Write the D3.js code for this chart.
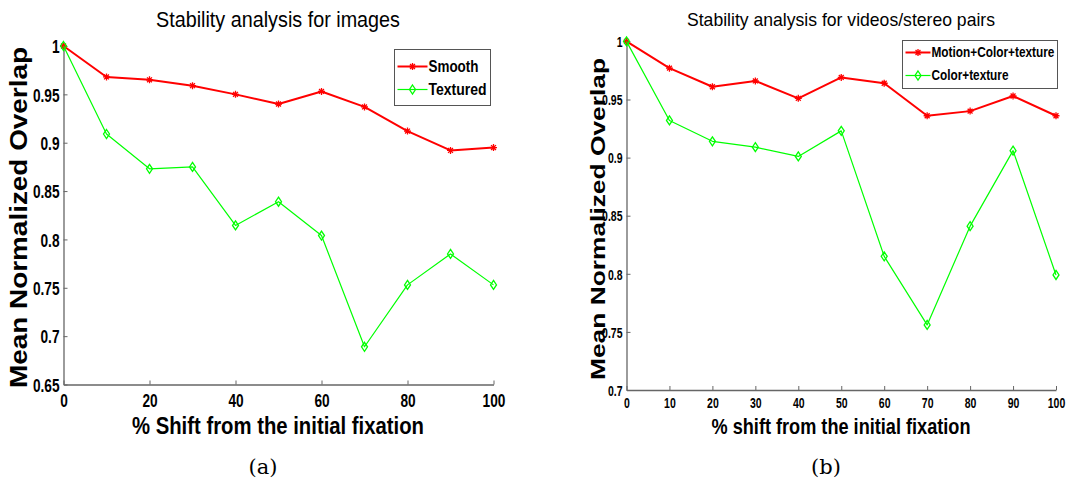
<!DOCTYPE html>
<html><head><meta charset="utf-8">
<script src="https://cdn.jsdelivr.net/npm/d3@7"></script>
<style>
body{margin:0;background:#fff;}
svg{display:block;}
text{fill:#000;}
</style></head>
<body>
<svg id="c" width="1070" height="490"></svg>
<script>
// ---- data ----
const shiftsA = [0,10,20,30,40,50,60,70,80,90,100];
const smooth   = [1.0,0.968,0.965,0.959,0.950,0.940,0.953,0.937,0.912,0.892,0.895];
const textured = [1.0,0.909,0.873,0.875,0.8145,0.839,0.804,0.689,0.753,0.785,0.753];
const shiftsB = [0,10,20,30,40,50,60,70,80,90,100];
const motionColorTexture = [1.0,0.977,0.961,0.966,0.951,0.969,0.964,0.936,0.940,0.953,0.936];
const colorTexture       = [1.0,0.932,0.914,0.909,0.901,0.923,0.815,0.756,0.841,0.906,0.799];
const yTicksA = [0.65,0.7,0.75,0.8,0.85,0.9,0.95,1];
const xTicksA = [0,20,40,60,80,100];
const yTicksB = [0.7,0.75,0.8,0.85,0.9,0.95,1];
const xTicksB = [0,10,20,30,40,50,60,70,80,90,100];

const svg = d3.select("#c");
const SANS = "'Liberation Sans',Arial,sans-serif";

// horizontally squeeze text by factor f around its own x position
function squeeze(sel, f){
  sel.each(function(){
    const t = d3.select(this);
    const x0 = +t.attr("x") || 0;
    t.attr("transform", `translate(${x0},0) scale(${f},1) translate(${-x0},0)`);
  });
}
function starPath(r){
  return `M${-r},0H${r}M0,${-r}V${r}M${-r*0.7},${-r*0.7}L${r*0.7},${r*0.7}M${-r*0.7},${r*0.7}L${r*0.7},${-r*0.7}`;
}
function diamondPath(w,h){
  return `M0,${-h}L${w},0L0,${h}L${-w},0Z`;
}

function panel(cfg){
  const g = svg.append("g");
  const x = d3.scaleLinear().domain([0,100]).range([cfg.x0,cfg.x1]);
  const y = d3.scaleLinear().domain(cfg.yDomain).range([cfg.yb,cfg.yt]);
  const fmt = d => String(+d.toFixed(2));

  const xa = g.append("g").attr("transform",`translate(0,${cfg.yb})`)
    .call(d3.axisBottom(x).tickValues(cfg.xTicks).tickSizeInner(-4).tickSizeOuter(0).tickPadding(cfg.xPad).tickFormat(d3.format("d")));
  const ya = g.append("g").attr("transform",`translate(${cfg.x0},0)`)
    .call(d3.axisLeft(y).tickValues(cfg.yTicks).tickSizeInner(-4).tickSizeOuter(0).tickPadding(4).tickFormat(fmt));
  [xa,ya].forEach(a=>{
    a.select(".domain").attr("stroke","#666").attr("stroke-width",1.3);
    a.selectAll(".tick line").attr("stroke","#666");
    a.selectAll(".tick text").attr("font-family",SANS).attr("font-weight","bold")
      .attr("font-size",cfg.tickFs).attr("fill","#000");
    squeeze(a.selectAll(".tick text"), cfg.tickF);
  });
  ya.selectAll(".tick text").attr("dy","0.35em");
  xa.selectAll(".tick text").attr("dy","0.71em");

  const line = d3.line().x(d=>x(d[0])).y(d=>y(d[1]));
  cfg.series.forEach(s=>{
    const pts = s.xs.map((v,i)=>[v,s.ys[i]]);
    g.append("path").attr("d",line(pts)).attr("fill","none")
      .attr("stroke",s.color).attr("stroke-width",s.lw).attr("stroke-linejoin","round");
    g.selectAll(null).data(pts).enter().append("path")
      .attr("transform",d=>`translate(${x(d[0])},${y(d[1])})`)
      .attr("d",s.marker==="star"?starPath(3.5):diamondPath(3,4.5))
      .attr("fill","none").attr("stroke",s.color).attr("stroke-width",1.3);
  });

  g.append("text").attr("x",cfg.titleX).attr("y",cfg.titleY).attr("text-anchor","middle")
    .attr("font-family",SANS).attr("font-size",cfg.titleFs)
    .attr("textLength",cfg.titleW).attr("lengthAdjust","spacingAndGlyphs").text(cfg.title);
  g.append("text").attr("x",cfg.xlabX).attr("y",cfg.xlabY).attr("text-anchor","middle")
    .attr("font-family",SANS).attr("font-weight","bold").attr("font-size",cfg.xlabFs)
    .attr("textLength",cfg.xlabW).attr("lengthAdjust","spacingAndGlyphs").text(cfg.xlabel);
  g.append("text").attr("transform",`translate(${cfg.ylabX},${cfg.ylabY}) rotate(-90)`)
    .attr("text-anchor","middle").attr("font-family",SANS)
    .attr("font-weight","bold").attr("font-size",cfg.ylabFs)
    .attr("textLength",cfg.ylabW).attr("lengthAdjust","spacingAndGlyphs").text("Mean Normalized Overlap");
  g.append("text").attr("x",cfg.capX).attr("y",474).attr("text-anchor","middle")
    .attr("font-family","'DejaVu Serif','Liberation Serif',serif").attr("font-size",21).text(cfg.caption);

  const L = cfg.legend;
  g.append("rect").attr("x",L.x).attr("y",L.y).attr("width",L.w).attr("height",L.h)
    .attr("fill","#fff").attr("stroke","#555").attr("stroke-width",1);
  cfg.series.forEach((s,i)=>{
    const yy = L.y + L.row0 + i*L.dy;
    g.append("line").attr("x1",L.x+L.l0).attr("x2",L.x+L.l1).attr("y1",yy).attr("y2",yy)
      .attr("stroke",s.color).attr("stroke-width",s.lw);
    g.append("path").attr("transform",`translate(${L.x+(L.l0+L.l1)/2},${yy})`)
      .attr("d",s.marker==="star"?starPath(3.5):diamondPath(3,4.5))
      .attr("fill","none").attr("stroke",s.color).attr("stroke-width",1.3);
    const t = g.append("text").attr("x",0).attr("y",0).attr("dy","0.35em")
      .attr("font-family",SANS).attr("font-weight","bold").attr("font-size",L.fs).text(s.name);
    const w = t.node().getComputedTextLength();
    t.attr("transform",`translate(${L.x+L.l1+1},${yy}) scale(${L.tw[i]/w},1)`);
  });
}

panel({
  x0:63.5, x1:493.5, yb:384.5, yt:46, yDomain:[0.65,1],
  xTicks:xTicksA, yTicks:yTicksA, tickFs:19, tickF:0.72, xPad:9,
  series:[
    {name:"Smooth", xs:shiftsA, ys:smooth, color:"#ff0000", lw:2, marker:"star"},
    {name:"Textured", xs:shiftsA, ys:textured, color:"#00ff00", lw:1.2, marker:"diamond"}
  ],
  title:"Stability analysis for images", titleX:278, titleY:27, titleFs:22, titleW:244,
  xlabel:"% Shift from the initial fixation", xlabX:278, xlabY:434, xlabFs:24, xlabW:292,
  ylabX:27, ylabY:217.5, ylabFs:23, ylabW:341,
  caption:"(a)", capX:263,
  legend:{x:394.5, y:49.5, w:96, h:56, row0:17, dy:23, l0:3, l1:33, fs:17, tw:[50,58]}
});

panel({
  x0:626.5, x1:1056, yb:390, yt:41.4, yDomain:[0.7,1],
  xTicks:xTicksB, yTicks:yTicksB, tickFs:15, tickF:0.7, xPad:7,
  series:[
    {name:"Motion+Color+texture", xs:shiftsB, ys:motionColorTexture, color:"#ff0000", lw:2, marker:"star"},
    {name:"Color+texture", xs:shiftsB, ys:colorTexture, color:"#00ff00", lw:1.2, marker:"diamond"}
  ],
  title:"Stability analysis for videos/stereo pairs", titleX:841, titleY:26, titleFs:19, titleW:308,
  xlabel:"% shift from the initial fixation", xlabX:841, xlabY:434, xlabFs:22, xlabW:259,
  ylabX:605, ylabY:219, ylabFs:21, ylabW:322,
  caption:"(b)", capX:826,
  legend:{x:902.5, y:40.5, w:155, h:48, row0:12, dy:23, l0:3, l1:28, fs:14, tw:[123,77]}
});
</script>
</body></html>
